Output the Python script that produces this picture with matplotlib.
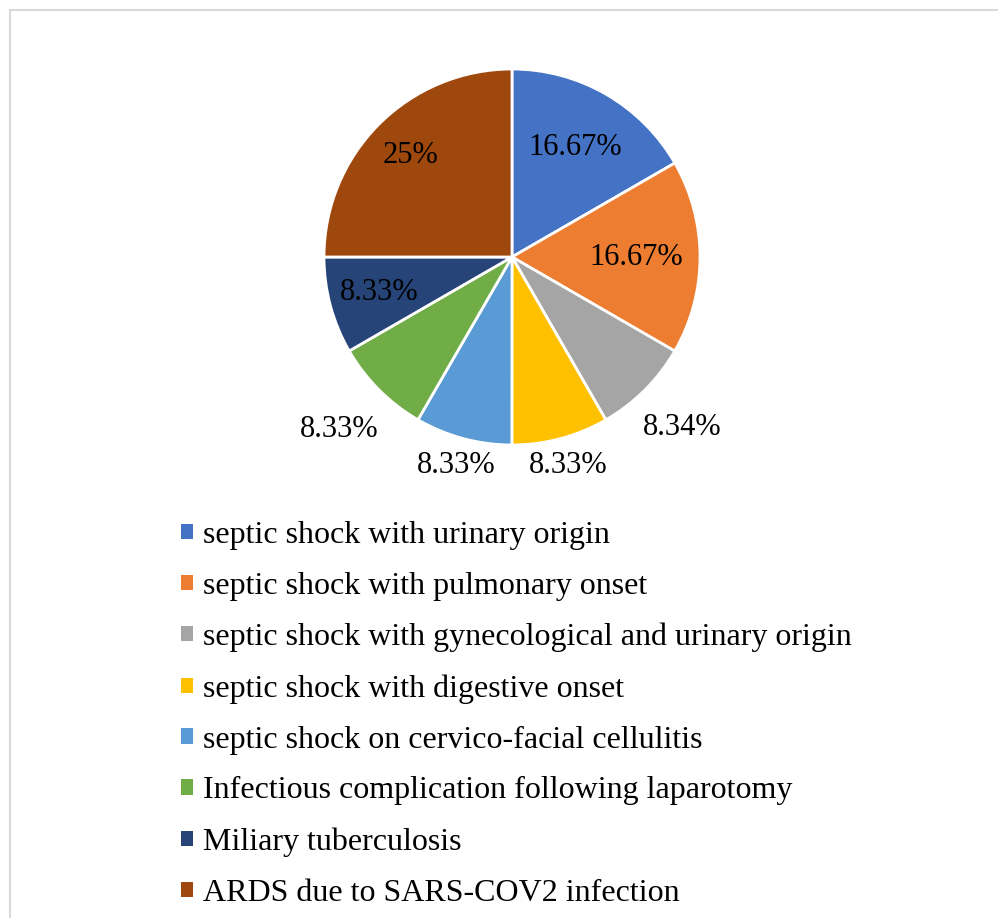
import numpy as np
import matplotlib.pyplot as plt
from matplotlib.patches import Rectangle

plt.rcParams['font.family'] = ['Liberation Serif', 'DejaVu Serif']

# Data
categories = ['septic shock with urinary origin',
              'septic shock with pulmonary onset',
              'septic shock with gynecological and urinary origin',
              'septic shock with digestive onset',
              'septic shock on cervico-facial cellulitis',
              'Infectious complication following laparotomy',
              'Miliary tuberculosis',
              'ARDS due to SARS-COV2 infection']
values = [16.67, 16.67, 8.34, 8.33, 8.33, 8.33, 8.33, 25]
labels = ['16.67%', '16.67%', '8.34%', '8.33%', '8.33%', '8.33%', '8.33%', '25%']
colors = ['#4472C4', '#ED7D31', '#A5A5A5', '#FFC000',
          '#5B9BD5', '#70AD47', '#264478', '#9E480E']
# radial position of each label (fraction of radius)
label_dist = [0.67, 0.66, 1.28, 1.15, 1.15, 1.3, 0.73, 0.76]

W, H = 998, 918
fig = plt.figure(figsize=(W / 100, H / 100), dpi=100)

# light grey frame (right/bottom run off the image)
fig.patches.append(Rectangle((10 / W, -0.1), 1.2, (H - 10) / H + 0.1,
                             transform=fig.transFigure, fill=False,
                             edgecolor='#D9D9D9', linewidth=1.5))

cx, cy, r = 512, 257, 188
ax = fig.add_axes([(cx - r) / W, (H - cy - r) / H, 2 * r / W, 2 * r / H])
wedges, _ = ax.pie(values, colors=colors, startangle=90, counterclock=False,
                   wedgeprops=dict(edgecolor='white', linewidth=2))
ax.set_xlim(-1, 1)
ax.set_ylim(-1, 1)
ax.set_aspect('equal')
ax.axis('off')

for w, lab, d in zip(wedges, labels, label_dist):
    ang = np.deg2rad((w.theta1 + w.theta2) / 2)
    ax.text(d * np.cos(ang), d * np.sin(ang), lab, ha='center', va='center',
            fontsize=22, color='black')

leg = fig.legend(wedges, categories, loc='upper left',
                 bbox_to_anchor=(181 / W, 1 - 521 / H), frameon=False,
                 fontsize=23, handlelength=0.36, handleheight=0.36,
                 handletextpad=0.34, labelspacing=0.685, borderpad=0,
                 borderaxespad=0)
for h in leg.legend_handles:
    h.set_edgecolor('none')

fig.savefig('out.png', dpi=100)
